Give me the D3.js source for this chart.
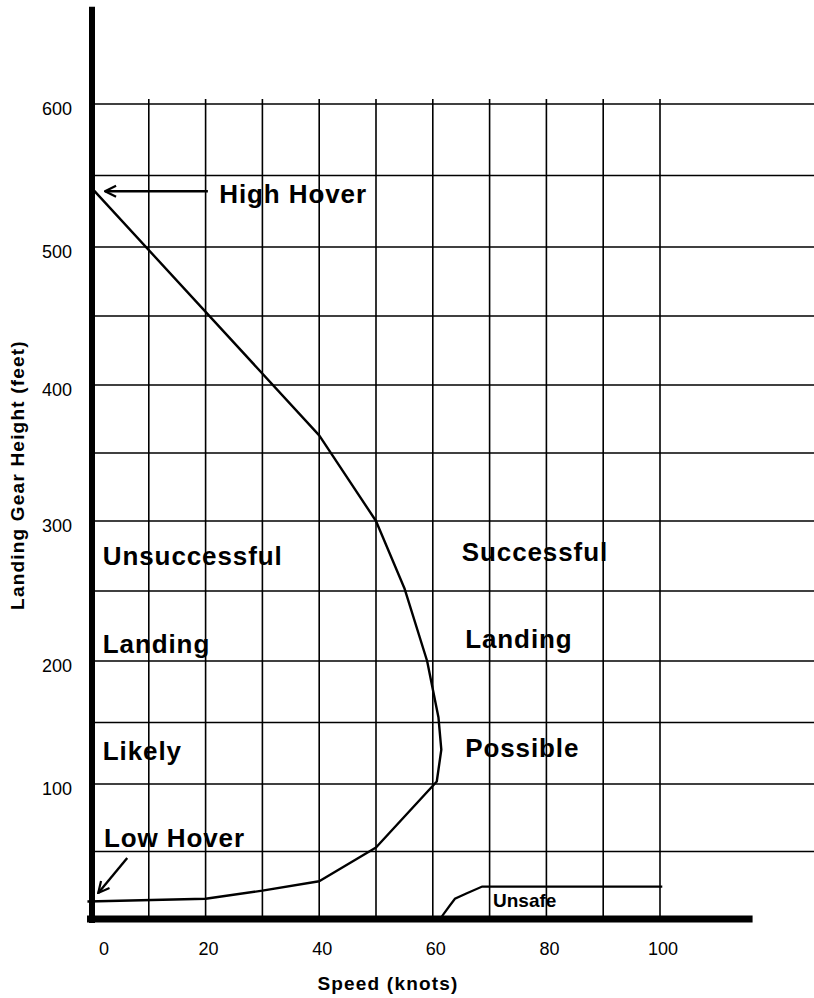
<!DOCTYPE html>
<html>
<head>
<meta charset="utf-8">
<script src="https://d3js.org/d3.v7.min.js"></script>
<style>
  html, body { margin: 0; padding: 0; background: #fff; }
  svg { display: block; font-family: "Liberation Sans", Arial, Helvetica, sans-serif; }
</style>
</head>
<body>
<div id="chart"></div>
<script>
// height-velocity curve (speed in knots, landing gear height in feet)
var hvSpeed  = [0,   40,  50,  55,  59,  61,  61.5, 60.7, 50, 40, 30, 20, -0.8];
var hvHeight = [541, 363, 300, 252, 200, 154, 128,  102,  53, 28, 21, 15, 13];

// small "unsafe" region near the ground
var unsafeSpeed  = [61.6, 63.0, 63.9, 66.0, 68.7, 100.4];
var unsafeHeight = [2,    10,   15,   19,   24,   24];

var xTicks = [0, 20, 40, 60, 80, 100];
var yTicks = [100, 200, 300, 400, 500, 600];
var xGrid = [10, 20, 30, 40, 50, 60, 70, 80, 90, 100];
var yGrid = [50, 100, 150, 200, 250, 300, 350, 400, 450, 500, 550, 600];

var leftLabels = ['Unsuccessful', 'Landing', 'Likely'];
var rightLabels = ['Successful', 'Landing', 'Possible'];

var width = 814, height = 998;

var svg = d3.select('#chart')
            .append('svg')
              .attr('width', width).attr('height', height);

svg.append('rect')
  .attr('width', width).attr('height', height)
  .attr('fill', '#fff');

var x = d3.scaleLinear().domain([0, 100]).range([92, 660]);
// the hand drawn grid is not evenly spaced, so map it piece by piece
var y = d3.scaleLinear()
          .domain([0, 100, 200, 300, 400, 500, 600])
          .range([919, 784, 661, 521, 385, 247, 104]);

svg.append('defs').append('marker')
    .attr('id', 'arrow')
    .attr('markerUnits', 'userSpaceOnUse')
    .attr('viewBox', '-13 -7 14 14')
    .attr('refX', 0).attr('refY', 0)
    .attr('markerWidth', 14).attr('markerHeight', 14)
    .attr('orient', 'auto')
  .append('path')
    .attr('d', 'M-11,-5.5L0,0L-11,5.5')
    .attr('fill', 'none')
    .attr('stroke', '#000')
    .attr('stroke-width', 2.2);

// grid
var grid = svg.append('g').attr('stroke', '#000').attr('stroke-width', 1.6);

grid.selectAll('line.h').data(yGrid).enter().append('line')
  .attr('class', 'h')
  .attr('x1', x(0) + 3).attr('x2', width)
  .attr('y1', function(d) { return y(d); })
  .attr('y2', function(d) { return y(d); });

grid.selectAll('line.v').data(xGrid).enter().append('line')
  .attr('class', 'v')
  .attr('x1', function(d) { return x(d); })
  .attr('x2', function(d) { return x(d); })
  .attr('y1', y(600) - 5).attr('y2', y(0) - 3);

// axes (thick black bars)
svg.append('line')
  .attr('x1', x(0)).attr('x2', x(0))
  .attr('y1', y(668)).attr('y2', y(0) + 4)
  .attr('stroke', '#000').attr('stroke-width', 6);

svg.append('line')
  .attr('x1', x(0) - 5).attr('x2', x(116.3))
  .attr('y1', y(0)).attr('y2', y(0))
  .attr('stroke', '#000').attr('stroke-width', 7);

// tick labels
svg.selectAll('text.ytick').data(yTicks).enter().append('text')
  .attr('class', 'ytick')
  .attr('x', 72)
  .attr('y', function(d) { return y(d) + 5; })
  .attr('text-anchor', 'end')
  .attr('dominant-baseline', 'central')
  .attr('font-size', 18)
  .text(function(d) { return d; });

svg.selectAll('text.xtick').data(xTicks).enter().append('text')
  .attr('class', 'xtick')
  .attr('x', function(d) { return x(d) + (d === 0 ? 12 : 3); })
  .attr('y', y(0) + 30)
  .attr('text-anchor', 'middle')
  .attr('dominant-baseline', 'central')
  .attr('font-size', 18)
  .text(function(d) { return d; });

svg.append('text')
  .attr('x', 388).attr('y', 990)
  .attr('text-anchor', 'middle')
  .attr('font-size', 19).attr('font-weight', 'bold')
  .attr('letter-spacing', 1.2)
  .text('Speed (knots)');

svg.append('text')
  .attr('transform', 'translate(24,475) rotate(-90)')
  .attr('text-anchor', 'middle')
  .attr('font-size', 19).attr('font-weight', 'bold')
  .attr('letter-spacing', 1.2)
  .text('Landing Gear Height (feet)');

// curves
var line = d3.line()
  .x(function(d) { return x(d[0]); })
  .y(function(d) { return y(d[1]); });

svg.append('path')
  .datum(d3.zip(hvSpeed, hvHeight))
  .attr('d', line)
  .attr('fill', 'none')
  .attr('stroke', '#000')
  .attr('stroke-width', 2.4)
  .attr('stroke-linejoin', 'round');

svg.append('path')
  .datum(d3.zip(unsafeSpeed, unsafeHeight))
  .attr('d', line)
  .attr('fill', 'none')
  .attr('stroke', '#000')
  .attr('stroke-width', 2.2);

// region labels
var big = svg.append('g')
  .attr('font-size', 26).attr('font-weight', 'bold')
  .attr('letter-spacing', 0.9);

big.selectAll('text.left').data(leftLabels).enter().append('text')
  .attr('class', 'left')
  .attr('x', x(1.9))
  .attr('y', function(d, i) { return y([268.6, 205.7, 119.5][i]); })
  .text(function(d) { return d; });

big.selectAll('text.right').data(rightLabels).enter().append('text')
  .attr('class', 'right')
  .attr('x', function(d, i) { return x(i === 0 ? 65.1 : 65.7); })
  .attr('y', function(d, i) { return y([271.4, 209.3, 122][i]); })
  .text(function(d) { return d; });

big.append('text')
  .attr('x', x(22.4)).attr('y', y(530.8))
  .text('High Hover');

big.append('text')
  .attr('x', x(2.1)).attr('y', y(53.3))
  .text('Low Hover');

svg.append('text')
  .attr('x', x(70.6)).attr('y', y(8.9))
  .attr('font-size', 19).attr('font-weight', 'bold')
  .text('Unsafe');

// hover arrows
svg.append('line')
  .attr('x1', x(20.4)).attr('y1', y(539))
  .attr('x2', x(2.3)).attr('y2', y(539))
  .attr('stroke', '#000').attr('stroke-width', 2.4)
  .attr('marker-end', 'url(#arrow)');

svg.append('line')
  .attr('x1', x(6.2)).attr('y1', y(45.2))
  .attr('x2', x(1.1)).attr('y2', y(19.3))
  .attr('stroke', '#000').attr('stroke-width', 2.4)
  .attr('marker-end', 'url(#arrow)');
</script>
</body>
</html>
